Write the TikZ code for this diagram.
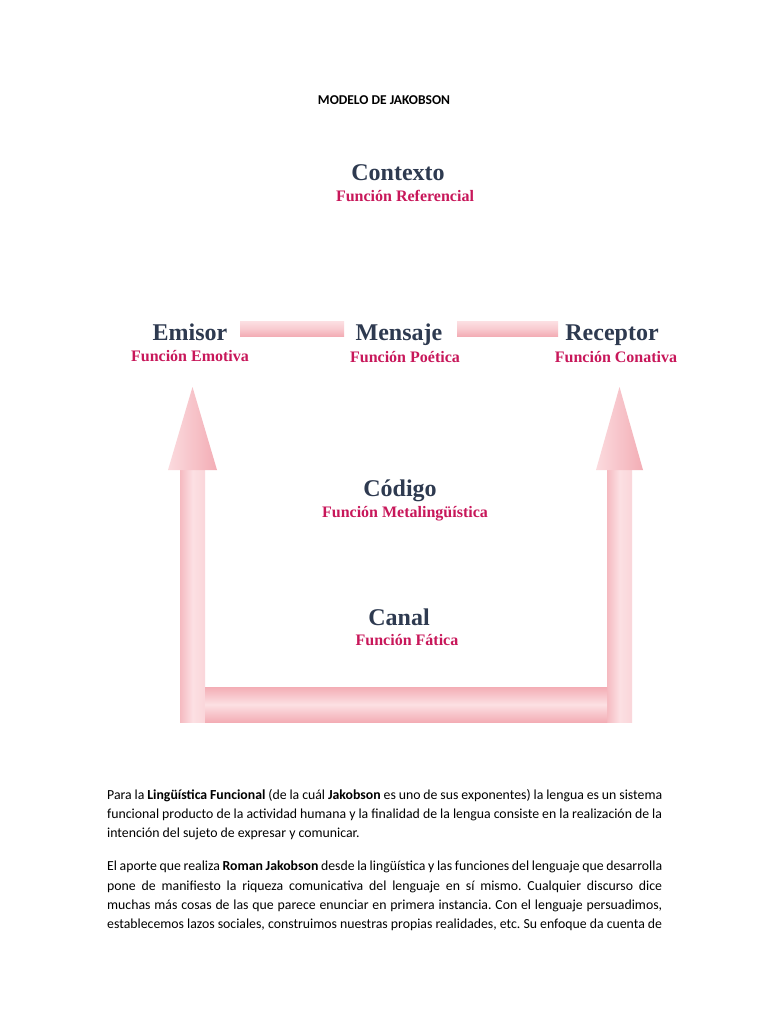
\documentclass[tikz,border=0pt]{standalone}
\usepackage{fontspec}
\setmainfont{Liberation Serif}
\newfontfamily\calibri{Carlito}
\usetikzlibrary{positioning}
\frenchspacing

\definecolor{azuloscuro}{HTML}{2E3A50}
\definecolor{rojofuncion}{HTML}{C8175A}
\definecolor{rosa}{HTML}{F3ADB5}
\definecolor{rosaclaro}{HTML}{FCE0E3}

\tikzset{
  elemento/.style={font=\fontsize{24}{28}\selectfont\bfseries, text=azuloscuro, anchor=base, inner sep=0pt},
  funcion/.style={font=\fontsize{16}{19}\selectfont\bfseries, text=rojofuncion, anchor=base, inner sep=0pt},
  parrafo/.style={font=\calibri\fontsize{13.8}{19.2}\selectfont, text width=555pt, align=justify, anchor=north west, inner sep=0pt},
  barrah/.style={top color=rosaclaro, bottom color=rosa, middle color=rosaclaro!60!rosa},
  barrav/.style={left color=rosa!75!rosaclaro, right color=rosaclaro!80!rosa, middle color=rosaclaro},
  punta/.style={left color=rosaclaro!90!rosa, right color=rosa}
}

\begin{document}
\begin{tikzpicture}[x=1pt, y=-1pt]
    % Page
    \fill[white] (0,0) rectangle (768,1024);

    % Title
    \node[font=\calibri\fontsize{13.5}{16}\selectfont\bfseries, anchor=base, inner sep=0pt] (titulo) at (384,105) {MODELO DE JAKOBSON};

    % Top element
    \node[elemento] (contexto) at (398,181) {Contexto};
    \node[funcion] (fcontexto) at (405,202) {Función Referencial};

    % Middle row
    \node[elemento] (emisor) at (190,340) {Emisor};
    \node[funcion] (femisor) at (190,361) {Función Emotiva};
    \node[elemento] (mensaje) at (399,340) {Mensaje};
    \node[funcion] (fmensaje) at (405,362) {Función Poética};
    \node[elemento] (receptor) at (612,340) {Receptor};
    \node[funcion] (freceptor) at (616,362) {Función Conativa};

    % Bars between the row elements
    \shade[barrah] (240,321) rectangle (344,336);
    \shade[barrah] (457,321) rectangle (558,336);

    % Left arrow (shaft + head)
    \shade[barrav] (180,470) rectangle (205,722);
    \shade[punta] (168,470) -- (192.5,387) -- (217,470) -- cycle;

    % Right arrow (shaft + head)
    \shade[barrav] (607,470) rectangle (632,722);
    \shade[punta] (596,470) -- (619.5,387) -- (643,470) -- cycle;

    % Bottom bar joining both arrows
    \shade[top color=rosa, bottom color=rosa, middle color=rosaclaro] (205,687) rectangle (607,722);

    % Code and channel
    \node[elemento] (codigo) at (400,496) {Código};
    \node[funcion] (fcodigo) at (405,517) {Función Metalingüística};
    \node[elemento] (canal) at (399,625) {Canal};
    \node[funcion] (fcanal) at (407,645) {Función Fática};

    % Text below the diagram
    \node[parrafo] (parrafo1) at (107,789) {\tolerance=9999\hyphenpenalty=10000
        Para la \textbf{Lingüística Funcional} (de la cuál \textbf{Jakobson} es uno de sus exponentes) la lengua es un sistema\linebreak
        funcional producto de la actividad humana y la finalidad de la lengua consiste en la realización de la\linebreak
        intención del sujeto de expresar y comunicar.};
    \node[parrafo] (parrafo2) at (107,861) {\tolerance=9999\hyphenpenalty=10000\parfillskip=0pt
        El aporte que realiza \textbf{Roman Jakobson} desde la lingüística y las funciones del lenguaje que desarrolla\linebreak
        pone de manifiesto la riqueza comunicativa del lenguaje en sí mismo. Cualquier discurso dice\linebreak
        muchas más cosas de las que parece enunciar en primera instancia. Con el lenguaje persuadimos,\linebreak
        establecemos lazos sociales, construimos nuestras propias realidades, etc. Su enfoque da cuenta de};
\end{tikzpicture}
\end{document}
